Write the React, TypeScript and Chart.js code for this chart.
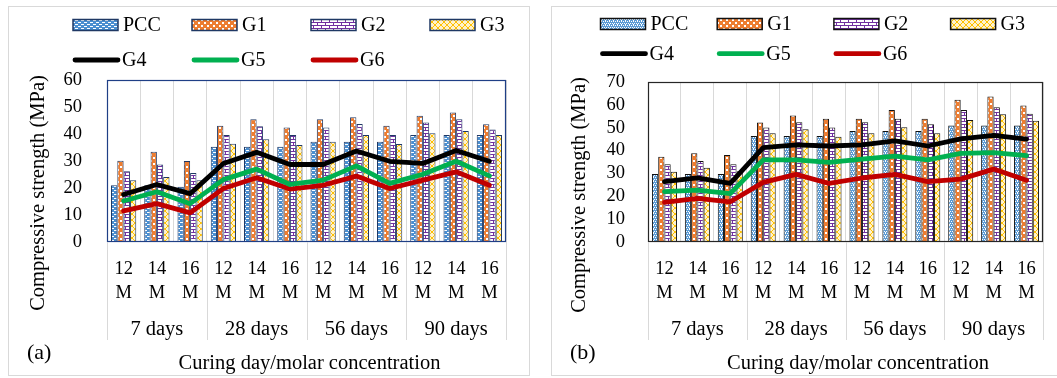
import React, { useEffect, useRef } from 'react';
import { Chart, registerables } from 'chart.js';

Chart.register(...registerables);

const SERIF = '"Liberation Serif", "Times New Roman", serif';

// ---------- categories ----------
const concentrations = ['12', '14', '16'];
const curingDays = ['7 days', '28 days', '56 days', '90 days'];
const categories = curingDays.flatMap(() => concentrations.map((c) => [c, 'M']));

const barNames = ['PCC', 'G1', 'G2', 'G3'];
const lineNames = ['G4', 'G5', 'G6'];

// ---------- panel (a) values (MPa) ----------
const aPCC = [21, 21, 20.5, 35.3, 35.3, 35.3, 37.1, 37.1, 37.1, 39.6, 39.6, 39.6];
const aG1 = [30.1, 33.4, 30, 43.1, 45.5, 42.4, 45.5, 46.2, 43.1, 46.8, 48, 43.6];
const aG2 = [26.2, 28.7, 25.6, 39.6, 42.9, 39.6, 42.4, 43.7, 39.6, 44.3, 45.5, 41.7];
const aG3 = [22.9, 24.1, 22.9, 36.4, 38.1, 35.9, 37.1, 39.6, 36.3, 40.3, 41.1, 39.6];
const aG4 = [17.6, 21.3, 17.9, 29.1, 33.2, 28.7, 28.7, 33.7, 29.9, 29.1, 33.9, 29.9];
const aG5 = [15.2, 18.6, 14.2, 23.1, 27, 21.3, 22.9, 28.2, 21.7, 25.1, 29.9, 24.5];
const aG6 = [11.5, 14.2, 10.8, 19.8, 23.8, 19.6, 21, 24.4, 19.8, 22.9, 26, 21];

// ---------- panel (b) values (MPa) ----------
const bPCC = [29.7, 29.7, 29.7, 46.4, 46.4, 46.4, 48.6, 48.6, 48.6, 51, 51, 51];
const bG1 = [37.3, 38.8, 38.1, 52.3, 55.3, 53.9, 53.9, 57.8, 53.9, 62.2, 63.7, 59.7];
const bG2 = [34, 35.4, 34, 50.1, 52.4, 50.1, 52.4, 53.9, 51.5, 57.8, 59, 56.1];
const bG3 = [30.7, 32.5, 31, 47.6, 49.3, 46.1, 47.6, 50.2, 47.6, 53.4, 55.9, 53];
const bG4 = [26.4, 28.1, 25.6, 41.3, 42.5, 42, 42.5, 44.2, 42, 45.1, 46.6, 45];
const bG5 = [22, 22.7, 21.2, 35.9, 35.9, 34.8, 36.3, 37.6, 35.9, 38.8, 39.1, 37.8];
const bG6 = [17.3, 19.1, 17.6, 26.1, 29.6, 25.6, 28, 29.6, 26.4, 27.5, 31.9, 27];

const yTitle = 'Compressive strength (MPa)';
const xTitle = 'Curing day/molar concentration';
const lineColors = ['#000000', '#00B050', '#C00000'];

type PanelCfg = {
  tag: string;
  variant: 'a' | 'b';
  canvasW: number;
  canvasH: number;
  plot: { left: number; top: number; right: number; bottom: number };
  yMax: number;
  yTickPad: number;
  bars: number[][];
  lines: number[][];
  frameColor: string;
  barBorder: string;
  legendX0: number;
  legendStep: number;
  legendRow1: number;
  legendRow2: number;
  yTitleX: number;
  yTitleY: number;
  xTitleX: number;
  xTitleY: number;
  groupY: number;
  sepBottom: number;
  tagX: number;
  tagY: number;
};

const panelA: PanelCfg = {
  tag: '(a)',
  variant: 'a',
  canvasW: 520,
  canvasH: 368,
  plot: { left: 98, top: 73, right: 497, bottom: 235 },
  yMax: 60,
  yTickPad: 17,
  bars: [aPCC, aG1, aG2, aG3],
  lines: [aG4, aG5, aG6],
  frameColor: '#1F3F86',
  barBorder: '#1F3864',
  legendX0: 64,
  legendStep: 119,
  legendRow1: 18,
  legendRow2: 53,
  yTitleX: 30,
  yTitleY: 186,
  xTitleX: 300.5,
  xTitleY: 357,
  groupY: 323,
  sepBottom: 333,
  tagX: 18,
  tagY: 346,
};

const panelB: PanelCfg = {
  tag: '(b)',
  variant: 'b',
  canvasW: 510,
  canvasH: 368,
  plot: { left: 96, top: 75, right: 491, bottom: 235 },
  yMax: 70,
  yTickPad: 15,
  bars: [bPCC, bG1, bG2, bG3],
  lines: [bG4, bG5, bG6],
  frameColor: '#262626',
  barBorder: '#111111',
  legendX0: 48.5,
  legendStep: 116.7,
  legendRow1: 17,
  legendRow2: 46.7,
  yTitleX: 28,
  yTitleY: 188,
  xTitleX: 306,
  xTitleY: 357,
  groupY: 323,
  sepBottom: 333,
  tagX: 18,
  tagY: 346,
};

function tile(w: number, h: number, draw: (g: CanvasRenderingContext2D) => void) {
  const c = document.createElement('canvas');
  c.width = w;
  c.height = h;
  const g = c.getContext('2d') as CanvasRenderingContext2D;
  draw(g);
  return g.createPattern(c, 'repeat') as CanvasPattern;
}

function makePatterns(variant: 'a' | 'b') {
  const pcc =
    variant === 'a'
      ? tile(6, 4, (g) => {
          g.fillStyle = '#4A8ED0';
          g.fillRect(0, 0, 6, 4);
          g.fillStyle = '#FFFFFF';
          g.fillRect(0, 1, 3, 1);
          g.fillRect(3, 3, 3, 1);
        })
      : tile(4, 4, (g) => {
          g.fillStyle = '#5B9BD5';
          g.fillRect(0, 0, 4, 4);
          g.fillStyle = '#FFFFFF';
          g.fillRect(0, 0, 1, 1);
          g.fillRect(2, 0, 1, 1);
          g.fillRect(1, 2, 1, 1);
          g.fillRect(3, 2, 1, 1);
          g.fillRect(1, 1, 1, 1);
        });
  const g1 = tile(6, 6, (g) => {
    g.fillStyle = '#ED7D31';
    g.fillRect(0, 0, 6, 6);
    g.fillStyle = '#FFFFFF';
    g.fillRect(0, 0, 2, 2);
    g.fillRect(3, 3, 2, 2);
  });
  const g2 = tile(8, 6, (g) => {
    g.fillStyle = '#FFFFFF';
    g.fillRect(0, 0, 8, 6);
    g.fillStyle = '#7030A0';
    g.fillRect(0, 0, 8, 1);
    g.fillRect(0, 3, 8, 1);
    g.fillRect(0, 0, 1, 3);
    g.fillRect(4, 3, 1, 3);
  });
  const g3 = tile(6, 6, (g) => {
    g.fillStyle = '#FFF2CC';
    g.fillRect(0, 0, 6, 6);
    g.fillStyle = '#FFC000';
    for (let i = 0; i < 6; i++) {
      g.fillRect(i, i, 1, 1);
      g.fillRect(5 - i, i, 1, 1);
    }
  });
  return [pcc, g1, g2, g3];
}

function buildChart(canvas: HTMLCanvasElement, p: PanelCfg) {
  const patterns = makePatterns(p.variant);

  const datasets: any[] = [
    ...p.bars.map((vals, i) => ({
      type: 'bar',
      label: barNames[i],
      data: vals,
      backgroundColor: patterns[i],
      borderColor: p.barBorder,
      borderWidth: 1,
      categoryPercentage: 0.76,
      barPercentage: 1,
      order: 2,
    })),
    ...p.lines.map((vals, i) => ({
      type: 'line',
      label: lineNames[i],
      data: vals,
      borderColor: lineColors[i],
      backgroundColor: lineColors[i],
      borderWidth: 4.8,
      pointRadius: 0,
      pointHoverRadius: 0,
      fill: false,
      tension: 0,
      borderJoinStyle: 'round',
      borderCapStyle: 'round',
      order: 1,
    })),
  ];

  const decor = {
    id: 'decor' + p.variant,
    afterDraw(chart: any) {
      const { ctx, chartArea: ca, scales } = chart;
      const xs = scales.x;
      ctx.save();

      // plot frame
      ctx.strokeStyle = p.frameColor;
      ctx.lineWidth = 1.2;
      ctx.strokeRect(ca.left + 0.5, ca.top + 0.5, ca.right - ca.left - 1, ca.bottom - ca.top - 1);

      // group separators & group labels
      const half = (xs.getPixelForValue(1) - xs.getPixelForValue(0)) / 2;
      const bounds: number[] = [];
      for (let g = 0; g <= curingDays.length; g++) {
        const idx = g * concentrations.length;
        const bx =
          idx < categories.length
            ? xs.getPixelForValue(idx) - half
            : xs.getPixelForValue(categories.length - 1) + half;
        bounds.push(bx);
      }
      ctx.strokeStyle = '#D9D9D9';
      ctx.lineWidth = 1;
      bounds.forEach((bx) => {
        const x = Math.round(bx) + 0.5;
        ctx.beginPath();
        ctx.moveTo(x, ca.bottom);
        ctx.lineTo(x, p.sepBottom);
        ctx.stroke();
      });
      ctx.fillStyle = '#000';
      ctx.font = `20.5px ${SERIF}`;
      ctx.textAlign = 'center';
      ctx.textBaseline = 'middle';
      curingDays.forEach((d, g) => {
        ctx.fillText(d, (bounds[g] + bounds[g + 1]) / 2, p.groupY);
      });

      // axis titles
      ctx.fillText(xTitle, p.xTitleX, p.xTitleY);
      ctx.save();
      ctx.translate(p.yTitleX, p.yTitleY);
      ctx.rotate(-Math.PI / 2);
      ctx.fillText(yTitle, 0, 0);
      ctx.restore();

      // panel tag
      ctx.font = `22px ${SERIF}`;
      ctx.textAlign = 'left';
      ctx.fillText(p.tag, p.tagX, p.tagY);

      // legend
      ctx.font = `20px ${SERIF}`;
      ctx.textAlign = 'left';
      barNames.forEach((name, i) => {
        const x = p.legendX0 + i * p.legendStep;
        const cy = p.legendRow1;
        ctx.fillStyle = patterns[i];
        ctx.fillRect(x, cy - 5.5, 45, 11);
        ctx.strokeStyle = p.barBorder;
        ctx.lineWidth = 1.5;
        ctx.strokeRect(x, cy - 5.5, 45, 11);
        ctx.fillStyle = '#000';
        ctx.fillText(name, x + 50, cy + 1);
      });
      lineNames.forEach((name, i) => {
        const x = p.legendX0 + i * p.legendStep;
        const cy = p.legendRow2;
        ctx.strokeStyle = lineColors[i];
        ctx.lineWidth = 4.8;
        ctx.lineCap = 'round';
        ctx.beginPath();
        ctx.moveTo(x + 2, cy);
        ctx.lineTo(x + 45, cy);
        ctx.stroke();
        ctx.fillStyle = '#000';
        ctx.fillText(name, x + 49, cy + 1);
      });

      ctx.restore();
    },
  };

  return new Chart(canvas, {
    type: 'bar',
    data: { labels: categories, datasets },
    options: {
      responsive: false,
      maintainAspectRatio: false,
      animation: false,
      events: [],
      layout: {
        padding: { top: p.plot.top, right: p.canvasW - p.plot.right, bottom: 0, left: 0 },
      },
      plugins: {
        legend: { display: false },
        tooltip: { enabled: false },
        title: { display: false },
      },
      scales: {
        x: {
          grid: { offset: true, color: '#D9D9D9', drawTicks: false, lineWidth: 1 },
          border: { display: false },
          ticks: {
            autoSkip: false,
            maxRotation: 0,
            minRotation: 0,
            color: '#000',
            padding: 15,
            font: { family: SERIF, size: 18.5, lineHeight: 24 / 18.5 },
          },
          afterFit: (s: any) => {
            s.height = p.canvasH - p.plot.bottom;
          },
        },
        y: {
          min: 0,
          max: p.yMax,
          ticks: {
            stepSize: 10,
            autoSkip: false,
            color: '#000',
            padding: p.yTickPad,
            font: { family: SERIF, size: 18.5 },
          },
          grid: { display: false },
          border: { display: false },
          afterFit: (s: any) => {
            s.width = p.plot.left;
          },
        },
      },
    } as any,
    plugins: [decor],
  } as any);
}

function Panel({ cfg, left, top, width, height }: { cfg: PanelCfg; left: number; top: number; width: number; height: number }) {
  const ref = useRef<HTMLCanvasElement | null>(null);
  useEffect(() => {
    if (!ref.current) return;
    const chart = buildChart(ref.current, cfg);
    return () => chart.destroy();
  }, [cfg]);
  return (
    <div
      style={{
        position: 'absolute',
        left,
        top,
        width,
        height,
        border: '1px solid #D9D9D9',
        boxSizing: 'border-box',
        background: '#fff',
      }}
    >
      <canvas
        ref={ref}
        width={cfg.canvasW}
        height={cfg.canvasH}
        style={{ display: 'block', width: cfg.canvasW, height: cfg.canvasH }}
      />
    </div>
  );
}

export default function App() {
  return (
    <div
      style={{
        position: 'absolute',
        left: 0,
        top: 0,
        width: 1057,
        height: 378,
        overflow: 'hidden',
        background: '#fff',
      }}
    >
      <Panel cfg={panelA} left={8} top={6} width={522} height={370} />
      <Panel cfg={panelB} left={551} top={6} width={512} height={370} />
    </div>
  );
}
